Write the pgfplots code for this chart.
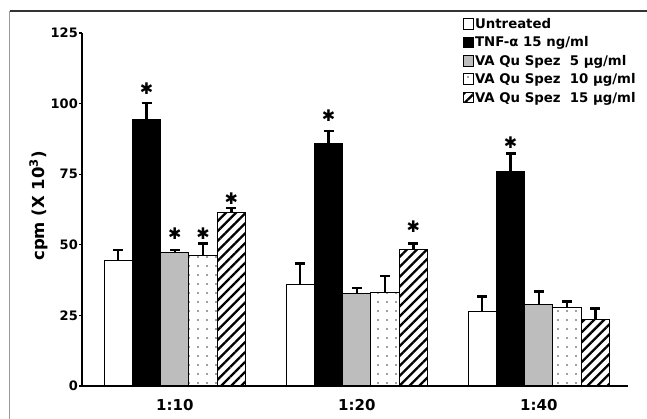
\documentclass[border=0pt]{standalone}
\usepackage{fontspec}
\setmainfont{DejaVu Sans}
\usepackage{pgfplots}
\pgfplotsset{compat=1.18}
\usetikzlibrary{patterns.meta}
\definecolor{bargray}{RGB}{189,189,189}

\pgfplotsset{
  frame/.style={at={(82pt,33pt)}, anchor=south west,
    scale only axis, width=546pt, height=353pt,
    xmin=0.49, xmax=3.49, ymin=0, ymax=125, clip=false},
  swatch/.style={legend image code/.code={%
    \draw[##1, line width=0.8pt] (0pt,-5pt) rectangle (10.5pt,5.5pt);}},
  star/.style={only marks, mark=none,
    nodes near coords={\fontsize{16}{16}\selectfont ✱},
    every node near coord/.style={anchor=center, xshift=#1}},
}

\begin{document}
\begin{tikzpicture}
\useasboundingbox (0,0) rectangle (647pt,419pt);
\draw[gray!80, line width=1.2pt] (9.5pt,0) -- (9.5pt,408pt);
\draw[black!80, line width=1.2pt] (9.5pt,408pt) -- (647pt,408pt);

\begin{axis}[
    frame,
    ybar=0pt, bar width=28.3pt,
    axis x line*=bottom, axis y line*=left,
    axis line style={line width=2.5pt, -},
    xtick={1,2,3}, xticklabels={1:10,1:20,1:40},
    x tick style={draw=none},
    xticklabel style={font=\bfseries\fontsize{15}{15}\selectfont, anchor=base, yshift=-22pt},
    ytick={0,25,50,75,100,125},
    tick align=outside, major tick length=3pt,
    y tick style={line width=1.2pt, black},
    yticklabel style={font=\bfseries\fontsize{13}{13}\selectfont, inner sep=1pt},
    /pgf/number format/assume math mode=true,
    ylabel={cpm (X 10\textsuperscript{3})},
    every axis y label/.style={at={(axis description cs:-0.08,0.51)}, rotate=90, anchor=center,
      font=\bfseries\fontsize{16.5}{16.5}\selectfont},
    legend style={at={(axis description cs:0.697,1.045)}, anchor=north west,
      draw=none, fill=none, inner sep=0pt, row sep=4.8pt,
      font=\bfseries\fontsize{13.3}{13.3}\selectfont,
      nodes={inner sep=1pt}},
    legend cell align=left,
    every axis plot/.append style={draw=black, line width=1pt, swatch},
    error bars/y dir=plus, error bars/y explicit,
    error bars/error bar style={line width=2.4pt, black, solid},
    error bars/error mark options={line width=2.4pt, mark size=5pt, black, rotate=90},
]

% Untreated
\addplot[fill=white]
  coordinates {(1,44.5) +- (0,3.7) (2,36.0) +- (0,7.4) (3,26.3) +- (0,5.4)};
\addlegendentry{Untreated}

% TNF-alpha
\addplot[fill=black]
  coordinates {(1,94.3) +- (0,5.9) (2,86.0) +- (0,4.4) (3,75.9) +- (0,6.4)};
\addlegendentry{TNF-α 15 ng/ml}

% 5 ug/ml
\addplot[fill=bargray]
  coordinates {(1,47.2) +- (0,0.9) (2,32.8) +- (0,1.9) (3,29.0) +- (0,4.4)};
\addlegendentry{VA Qu Spez\ \ 5 µg/ml}

% 10 ug/ml
\addplot[fill=white,
    postaction={pattern={Dots[distance=9pt, radius=0.95pt]}, pattern color=black!75}]
  coordinates {(1,46.1) +- (0,4.3) (2,33.2) +- (0,5.8) (3,27.9) +- (0,2.0)};
\addlegendentry{VA Qu Spez\ \ 10 µg/ml}

% 15 ug/ml
\addplot[fill=white,
    postaction={pattern={Lines[angle=45, distance=7pt, line width=2.3pt]}, pattern color=black}]
  coordinates {(1,61.3) +- (0,1.8) (2,48.5) +- (0,1.9) (3,23.6) +- (0,3.9)};
\addlegendentry{VA Qu Spez\ \ 15 µg/ml}
\end{axis}

% significance marks, same frame
\begin{axis}[frame, hide axis]
\addplot[star=-28.3pt] coordinates {(1,105.3) (2,95.8) (3,86.0)};
\addplot[star=0pt] coordinates {(1,53.9)};
\addplot[star=28.3pt] coordinates {(1,53.9)};
\addplot[star=56.6pt] coordinates {(1,66.3) (2,56.5)};
\end{axis}
\end{tikzpicture}
\end{document}
